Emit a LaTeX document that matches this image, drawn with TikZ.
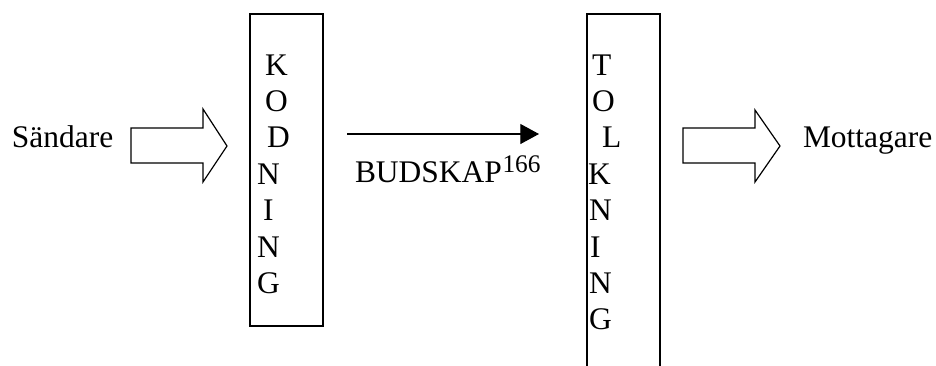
\documentclass[tikz,border=0pt]{standalone}
\usepackage{fontspec}
\setmainfont{Liberation Serif}
\newfontfamily\tnrfont{Liberation Serif}
\usetikzlibrary{arrows.meta}
\begin{document}
\begin{tikzpicture}[x=0.75pt,y=-0.75pt,
  lbl/.style={inner sep=0pt,outer sep=0pt,anchor=base west,font=\tnrfont\fontsize{23.6pt}{27pt}\selectfont},
  suplbl/.style={inner sep=0pt,outer sep=0pt,anchor=base west,font=\tnrfont\fontsize{19pt}{22pt}\selectfont},
  letterbox/.style={draw,line width=0.8pt,inner sep=0pt,minimum width=54.75pt},
  hollow/.style={draw,line width=0.9pt,line join=miter},
  msg/.style={-{Triangle[length=14pt,width=15pt]},line width=0.8pt}]
\useasboundingbox (0,0) rectangle (936,365);
\clip (0,0) rectangle (936,365);
% boxes
\node[letterbox,minimum height=234pt] (kod) at (286.5,170) {};
\node[letterbox,minimum height=274.5pt] (tolk) at (623.5,197) {};
% letters KODNING
\node[lbl] (k1) at (265,75) {K};
\node[lbl] (k2) at (265,111.4) {O};
\node[lbl] (k3) at (267,147.8) {D};
\node[lbl] (k4) at (257,184.2) {N};
\node[lbl] (k5) at (263,220.6) {I};
\node[lbl] (k6) at (257,257) {N};
\node[lbl] (k7) at (257,293.4) {G};
% letters TOLKNING
\node[lbl] (t1) at (592,75) {T};
\node[lbl] (t2) at (592,111.4) {O};
\node[lbl] (t3) at (602,147.8) {L};
\node[lbl] (t4) at (588,184.2) {K};
\node[lbl] (t5) at (589,220.6) {N};
\node[lbl] (t6) at (590,257) {I};
\node[lbl] (t7) at (589,293.4) {N};
\node[lbl] (t8) at (589,329.8) {G};
% end labels
\node[lbl] (snd) at (12,147) {Sändare};
\node[lbl] (mot) at (803,147) {Mottagare};
% hollow arrows
\draw[hollow] (131,128) -- (203,128) -- (203,109) -- (227,146) -- (203,182) -- (203,163) -- (131,163) -- cycle;
\draw[hollow] (683,128) -- (755,128) -- (755,110) -- (780,146) -- (755,182) -- (755,163) -- (683,163) -- cycle;
% message arrow
\coordinate (ms) at (347,134);
\coordinate (me) at (539,134);
\draw[msg] (ms) -- (me);
\node[lbl] (bud) at (355,182) {BUDSKAP};
\node[suplbl] (sup) at ([xshift=0.5pt,yshift=7.5pt]bud.base east) {166};
\end{tikzpicture}
\end{document}
